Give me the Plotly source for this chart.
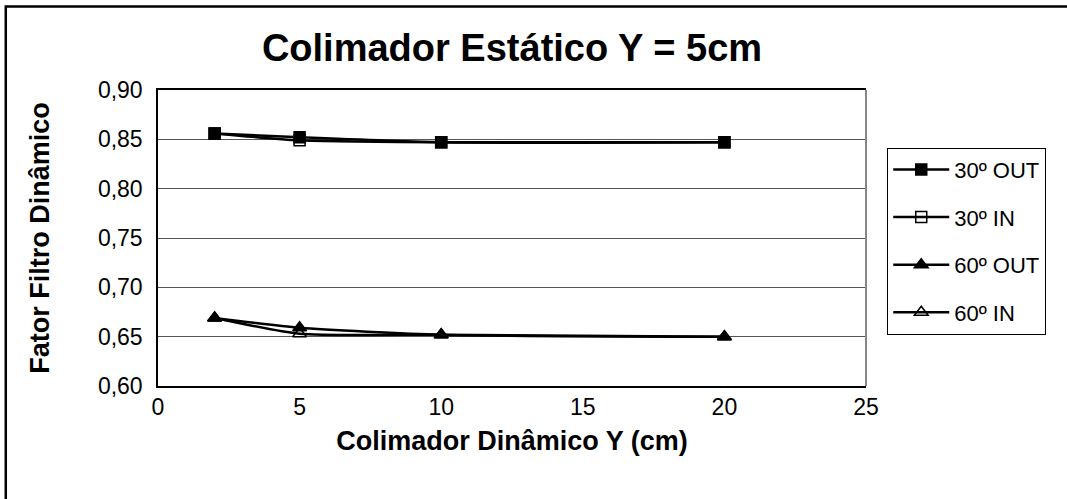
import plotly.graph_objects as go

# Colimador dinâmico Y (cm)
x_vals = [2, 5, 10, 20]

out_30 = [0.856, 0.852, 0.847, 0.847]
in_30 = [0.856, 0.849, 0.847, 0.847]
out_60 = [0.669, 0.659, 0.652, 0.650]
in_60 = [0.669, 0.653, 0.652, 0.650]

series_names = ["30º OUT", "30º IN", "60º OUT", "60º IN"]
series_values = [out_30, in_30, out_60, in_60]
marker_symbols = ["square", "square-open", "triangle-up", "triangle-up-open"]

fig = go.Figure()

for i, (name, vals, sym) in enumerate(zip(series_names, series_values, marker_symbols)):
    fig.add_trace(go.Scatter(
        x=x_vals,
        y=vals,
        name=name,
        mode="lines+markers",
        line=dict(color="black", width=2.5, shape="spline", smoothing=0.6),
        marker=dict(symbol=sym, size=11 if "square" in sym else 12, color="black",
                    line=dict(color="black", width=1.5)),
        legendgroup=str(i),
    ))

fig.update_layout(
    width=1067,
    height=499,
    paper_bgcolor="white",
    plot_bgcolor="white",
    separators=",.",
    font=dict(family="Liberation Sans, Arial", color="black"),
    margin=dict(l=158, r=201, t=90, b=113),
    title=dict(
        text="<b>Colimador Estático Y = 5cm</b>",
        x=0.5, xref="paper", xanchor="center",
        y=1 - 48 / 499, yanchor="middle",
        font=dict(size=38),
    ),
    xaxis=dict(
        range=[0, 25],
        dtick=5,
        showgrid=False,
        zeroline=False,
        showline=True,
        linecolor="black",
        linewidth=1.5,
        mirror=True,
        ticks="",
        tickfont=dict(size=23),
        title=dict(text="<b>Colimador Dinâmico Y (cm)</b>", font=dict(size=27), standoff=12),
    ),
    yaxis=dict(
        range=[0.60, 0.90],
        dtick=0.05,
        tickformat=".2f",
        showgrid=True,
        gridcolor="#555555",
        gridwidth=1,
        zeroline=False,
        showline=True,
        linecolor="black",
        linewidth=1.5,
        mirror=False,
        ticks="",
        ticklabelstandoff=9,
        tickfont=dict(size=23),
        title=dict(text="<b>Fator Filtro Dinâmico</b>", font=dict(size=27), standoff=40),
    ),
    legend=dict(
        x=1.03, xanchor="left",
        y=0.805, yanchor="top",
        bordercolor="black",
        borderwidth=1,
        font=dict(size=22),
        tracegroupgap=16,
        itemwidth=56,
    ),
    shapes=[
        dict(type="rect", xref="paper", yref="paper",
             x0=-0.215, x1=1.4, y0=-0.6, y1=1.282,
             line=dict(color="black", width=2.5), layer="below"),
        dict(type="line", xref="paper", yref="paper",
             x0=1, x1=1, y0=0, y1=1,
             line=dict(color="#888888", width=2)),
    ],
)

fig.write_html("out.html", config={"displayModeBar": False},
               post_script="document.body.style.margin='0';")
